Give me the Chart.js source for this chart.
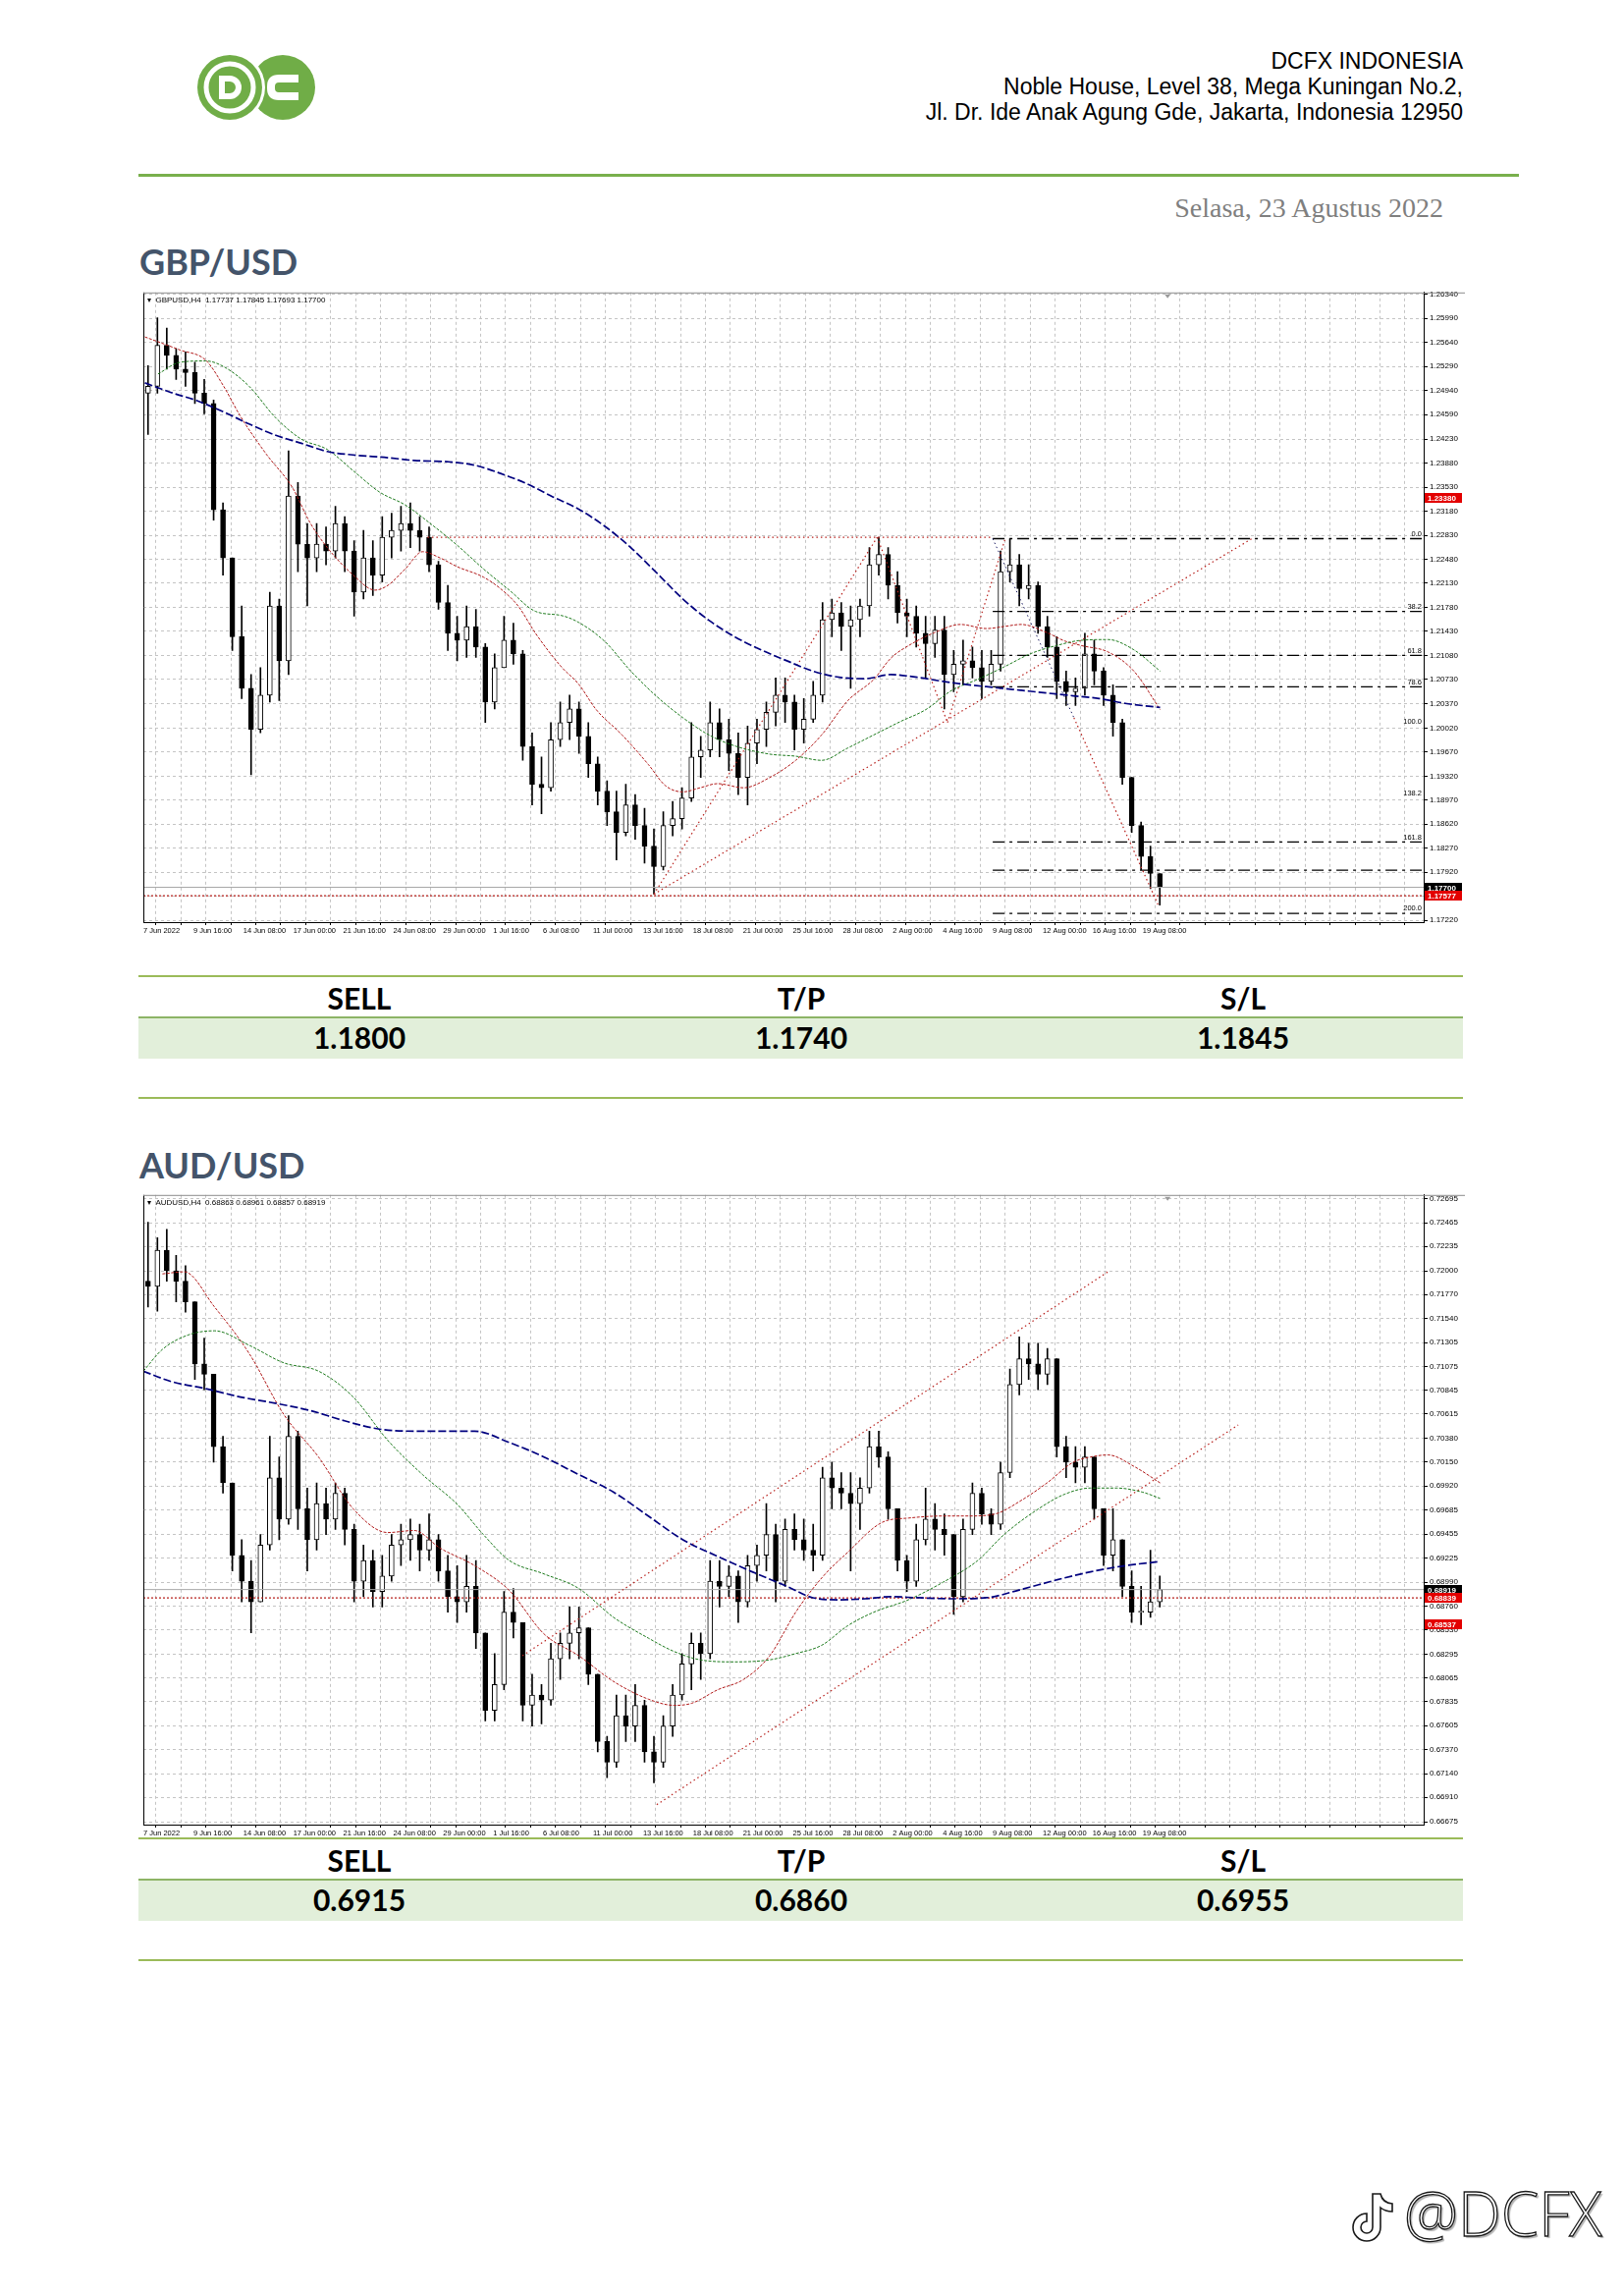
<!DOCTYPE html>
<html>
<head>
<meta charset="utf-8">
<script src="https://cdn.jsdelivr.net/npm/chart.js"></script>
<style>
  html, body { margin: 0; padding: 0; background: #fff; }
  #page { position: relative; width: 1653px; height: 2338px; overflow: hidden; }
  .abs { position: absolute; }
  .addr { right: 163px; top: 49px; font: 23px/26px "Liberation Sans", Arial, sans-serif; color: #000; text-align: right; }
  .rule { left: 141px; top: 177px; width: 1406px; height: 3px; background: #79b04c; }
  .date { right: 183px; top: 198px; font: 28px/28px "Liberation Serif", "Times New Roman", serif; color: #7f7f7f; }
  .pair { left: 142px; font: bold 36px/36px Lato, "Open Sans", sans-serif; color: #44546a; }
  canvas { position: absolute; }
  .tline { position: absolute; left: 141px; width: 1349px; height: 2px; background: #9bbb59; }
  .band { position: absolute; left: 141px; width: 1349px; background: #e2efda; }
  .cell { position: absolute; width: 450px; text-align: center; font: bold 30px/30px Lato, "Open Sans", sans-serif; color: #000; }
  .footer { left: 1430px; top: 2222px; font: 300 62px/62px "Open Sans", sans-serif; color: #fff;
            -webkit-text-stroke: 1.3px #1a1a1a; text-shadow: 2px 2px 1px rgba(0,0,0,0.3); }
</style>
</head>
<body>
<div id="page">

  <svg class="abs" style="left:200px; top:55px" width="122" height="68" viewBox="0 0 122 68">
    <circle cx="88" cy="34" r="33" fill="#70ad47"/>
    <path d="M104,25 H84 Q76,25 76,33 V35 Q76,43 84,43 H104" fill="none" stroke="#fff" stroke-width="8"/>
    <circle cx="34" cy="34" r="36" fill="#fff"/>
    <circle cx="34" cy="34" r="33" fill="#70ad47"/>
    <circle cx="34" cy="34" r="24" fill="none" stroke="#fff" stroke-width="5"/>
    <path d="M26,25 H34 A9,9 0 0 1 34,43 H26 Z" fill="none" stroke="#fff" stroke-width="6"/>
  </svg>

  <div class="abs addr">DCFX INDONESIA<br>Noble House, Level 38, Mega Kuningan No.2,<br>Jl. Dr. Ide Anak Agung Gde, Jakarta, Indonesia 12950</div>
  <div class="abs rule"></div>
  <div class="abs date">Selasa, 23 Agustus 2022</div>

  <div class="abs pair" style="top:248px">GBP/USD</div>
  <canvas id="gbpChart" width="1348" height="666" style="left:144px; top:291px; width:1348px; height:666px"></canvas>

  <div class="abs pair" style="top:1168px">AUD/USD</div>
  <canvas id="audChart" width="1348" height="666" style="left:144px; top:1210px; width:1348px; height:666px"></canvas>

  <div id="tables"></div>

  <svg class="abs" style="left:1374px; top:2230px" width="50" height="60" viewBox="0 0 50 60">
    <path d="M24,4 H32 Q34,13 44,14 V22 Q37,22 32,18 V38 A14,14 0 1 1 18,24 V32 A6,6 0 1 0 24,38 Z"
          fill="#fff" stroke="#1a1a1a" stroke-width="1.6"/>
  </svg>
  <div class="abs footer">@DCFX</div>
</div>

<script>
// ---- shared axis labels ----
const dateLabels = ['7 Jun 2022', '9 Jun 16:00', '14 Jun 08:00', '17 Jun 00:00', '21 Jun 16:00',
  '24 Jun 08:00', '29 Jun 00:00', '1 Jul 16:00', '6 Jul 08:00', '11 Jul 00:00', '13 Jul 16:00',
  '18 Jul 08:00', '21 Jul 00:00', '25 Jul 16:00', '28 Jul 08:00', '2 Aug 00:00', '4 Aug 16:00',
  '9 Aug 08:00', '12 Aug 00:00', '16 Aug 16:00', '19 Aug 08:00'];

// ---- GBP/USD (12h candles, open = previous close) ----
const gbpFirstOpen = 1.2490;
const gbpHigh = [1.2530, 1.2600, 1.2585, 1.2555, 1.2550, 1.2535, 1.2510, 1.2480, 1.2330, 1.2250,
  1.2180, 1.2080, 1.2090, 1.2200, 1.2190, 1.2406, 1.2360, 1.2300, 1.2300, 1.2295,
  1.2325, 1.2310, 1.2275, 1.2290, 1.2275, 1.2310, 1.2315, 1.2325, 1.2330, 1.2310,
  1.2295, 1.2245, 1.2210, 1.2165, 1.2180, 1.2175, 1.2125, 1.2110, 1.2165, 1.2155,
  1.2115, 1.1995, 1.1960, 1.2010, 1.2040, 1.2050, 1.2040, 1.2010, 1.1960, 1.1925,
  1.1910, 1.1920, 1.1905, 1.1885, 1.1855, 1.1880, 1.1895, 1.1915, 1.2010, 1.1990,
  1.2040, 1.2030, 1.2015, 1.1995, 1.2005, 1.2015, 1.2040, 1.2075, 1.2075, 1.2050,
  1.2045, 1.2070, 1.2185, 1.2190, 1.2185, 1.2180, 1.2190, 1.2265, 1.2280, 1.2265,
  1.2230, 1.2190, 1.2180, 1.2165, 1.2165, 1.2165, 1.2115, 1.2130, 1.2120, 1.2115,
  1.2115, 1.2260, 1.2278, 1.2255, 1.2240, 1.2215, 1.2165, 1.2135, 1.2085, 1.2075,
  1.2140, 1.2130, 1.2090, 1.2065, 1.2015, 1.1930, 1.1865, 1.1830, 1.1790];
const gbpLow = [1.2430, 1.2490, 1.2525, 1.2510, 1.2500, 1.2475, 1.2460, 1.2305, 1.2225, 1.2115,
  1.2045, 1.1934, 1.1995, 1.2040, 1.2042, 1.2080, 1.2230, 1.2180, 1.2230, 1.2240,
  1.2250, 1.2230, 1.2165, 1.2190, 1.2195, 1.2215, 1.2250, 1.2260, 1.2265, 1.2260,
  1.2230, 1.2175, 1.2115, 1.2100, 1.2105, 1.2105, 1.2010, 1.2030, 1.2090, 1.2095,
  1.1955, 1.1890, 1.1877, 1.1910, 1.1975, 1.1985, 1.1965, 1.1930, 1.1890, 1.1860,
  1.1810, 1.1845, 1.1840, 1.1805, 1.1760, 1.1795, 1.1845, 1.1855, 1.1895, 1.1930,
  1.1960, 1.1960, 1.1940, 1.1905, 1.1890, 1.1950, 1.1975, 1.2005, 1.2010, 1.1970,
  1.1980, 1.2010, 1.2040, 1.2135, 1.2115, 1.2060, 1.2135, 1.2165, 1.2225, 1.2190,
  1.2155, 1.2135, 1.2120, 1.2075, 1.2105, 1.2030, 1.2055, 1.2065, 1.2075, 1.2045,
  1.2065, 1.2085, 1.2215, 1.2180, 1.2190, 1.2140, 1.2105, 1.2045, 1.2035, 1.2035,
  1.2050, 1.2065, 1.2035, 1.1990, 1.1920, 1.1850, 1.1795, 1.1768, 1.1744];
const gbpClose = [1.2500, 1.2560, 1.2545, 1.2525, 1.2520, 1.2490, 1.2475, 1.2320, 1.2250, 1.2135,
  1.2060, 1.2000, 1.2050, 1.2180, 1.2100, 1.2340, 1.2270, 1.2250, 1.2270, 1.2260,
  1.2300, 1.2260, 1.2200, 1.2250, 1.2225, 1.2280, 1.2290, 1.2300, 1.2290, 1.2280,
  1.2240, 1.2185, 1.2140, 1.2130, 1.2150, 1.2120, 1.2040, 1.2090, 1.2130, 1.2110,
  1.1975, 1.1920, 1.1915, 1.1985, 1.2010, 1.2030, 1.1990, 1.1950, 1.1910, 1.1880,
  1.1850, 1.1890, 1.1860, 1.1830, 1.1800, 1.1860, 1.1870, 1.1900, 1.1960, 1.1970,
  1.2010, 1.1985, 1.1965, 1.1930, 1.1980, 1.2000, 1.2025, 1.2050, 1.2040, 1.2000,
  1.2015, 1.2050, 1.2160, 1.2170, 1.2150, 1.2160, 1.2180, 1.2240, 1.2255, 1.2210,
  1.2170, 1.2165, 1.2140, 1.2125, 1.2145, 1.2080, 1.2095, 1.2100, 1.2090, 1.2070,
  1.2095, 1.2230, 1.2240, 1.2205, 1.2210, 1.2150, 1.2120, 1.2070, 1.2055, 1.2060,
  1.2110, 1.2085, 1.2050, 1.2010, 1.1930, 1.1860, 1.1815, 1.1790, 1.1770];
// moving averages as [bar, price] readings
const gbpMaRed = [[0.5, 1.2572], [11.7, 1.2553], [20, 1.2538], [25.6, 1.2501], [31, 1.2457], [39.4, 1.2401],
  [47.8, 1.2352], [53.3, 1.2302], [58.9, 1.2265], [67.2, 1.2225], [74.2, 1.2203], [78.3, 1.2210],
  [83.9, 1.2234], [89.4, 1.2259], [95, 1.2250], [100.6, 1.2237], [108.9, 1.2222], [114.4, 1.2205],
  [120, 1.2180], [125.6, 1.2140], [133.9, 1.2091], [139.4, 1.2066], [145, 1.2029], [153.3, 1.1992],
  [161.7, 1.1949], [167.2, 1.1918], [172.8, 1.1909], [178.3, 1.1915], [183.9, 1.1921], [192.2, 1.1915],
  [200.6, 1.1930], [208.9, 1.1955], [217.2, 1.1992], [225.6, 1.2042], [233.9, 1.2073], [239.4, 1.2104],
  [245, 1.2122], [253.3, 1.2141], [261.7, 1.2153], [270, 1.2147], [275.6, 1.2150], [281.1, 1.2153],
  [289.4, 1.2141], [295, 1.2129], [300.6, 1.2122], [308.9, 1.2113], [317.2, 1.2085], [325.6, 1.2029]];
const gbpMaGreen = [[4.7, 1.2518], [11.7, 1.2535], [20, 1.2537], [25.6, 1.2529], [33.9, 1.2500],
  [42.2, 1.2455], [50.6, 1.2423], [58.9, 1.2408], [67.2, 1.2377], [75.6, 1.2346], [83.9, 1.2327],
  [92.2, 1.2299], [100.6, 1.2268], [108.9, 1.2234], [117.2, 1.2203], [125.6, 1.2172], [133.9, 1.2166],
  [139.4, 1.2156], [147.8, 1.2128], [156.1, 1.2085], [164.4, 1.2048], [172.8, 1.2017], [181.1, 1.1992],
  [189.4, 1.1976], [200.6, 1.1964], [208.9, 1.1961], [217.2, 1.1955], [225.6, 1.1973], [233.9, 1.1992],
  [242.2, 1.2011], [250.6, 1.2029], [258.9, 1.2057], [267.2, 1.2073], [275.6, 1.2091], [283.9, 1.2110],
  [292.2, 1.2122], [300.6, 1.2130], [308.9, 1.2131], [317.2, 1.2116], [325.6, 1.2085]];
const gbpMaBlue = [[0.5, 1.2505], [8.9, 1.2491], [17.2, 1.2479], [25.6, 1.2463], [33.9, 1.2445],
  [42.2, 1.2429], [50.6, 1.2417], [58.9, 1.2405], [67.2, 1.2400], [78.3, 1.2396], [86.7, 1.2392],
  [97.8, 1.2390], [106.1, 1.2385], [114.4, 1.2373], [122.8, 1.2358], [131.1, 1.2339], [139.4, 1.2321],
  [147.8, 1.2296], [156.1, 1.2265], [164.4, 1.2228], [172.8, 1.2190], [181.1, 1.2159], [189.4, 1.2135],
  [197.8, 1.2116], [206.1, 1.2100], [214.4, 1.2085], [222.8, 1.2076], [231.1, 1.2074], [239.4, 1.2080],
  [247.8, 1.2076], [256.1, 1.2070], [264.4, 1.2065], [272.8, 1.2061], [281.1, 1.2057], [289.4, 1.2053],
  [297.8, 1.2049], [306.1, 1.2045], [314.4, 1.2038], [325.6, 1.2032]];
const gbpTicks = [1.26340, 1.25990, 1.25640, 1.25290, 1.24940, 1.24590, 1.24230, 1.23880, 1.23530,
  1.23180, 1.22830, 1.22480, 1.22130, 1.21780, 1.21430, 1.21080, 1.20730, 1.20370, 1.20020, 1.19670,
  1.19320, 1.18970, 1.18620, 1.18270, 1.17920, 1.17570, 1.17220];
const gbpFibLevels = ['0.0', '38.2', '61.8', '78.6', '100.0', '138.2', '161.8', '200.0'];
const gbpFibPrices = [1.2278, 1.2172, 1.2108, 1.2062, 1.2004, 1.1900, 1.1836, 1.1732];
const gbpFibLines = [1.2278, 1.2172, 1.2108, 1.2062, 1.1836, 1.1795, 1.1732];
const gbpRedTrends = [
  [[163.5, 1.1760], [355, 1.2278]],
  [[163.5, 1.1760], [235, 1.2280]],
  [[235, 1.2280], [257.5, 1.2010]],
  [[257.5, 1.2010], [276, 1.2278]],
  [[298, 1.2017], [325, 1.1744]]];
const gbpBlackTrend = [[272, 1.2278], [298, 1.2017]];
const gbpResistance = [[91, 1.2280], [272, 1.2280]];
const gbpBid = 1.1770, gbpOrder = 1.17577, gbpAlert = 1.2338;

// ---- AUD/USD ----
const audFirstOpen = 0.7190;
const audHigh = [0.7247, 0.7232, 0.7240, 0.7215, 0.7205, 0.7170, 0.7135, 0.7100, 0.7040, 0.6995,
  0.6940, 0.6920, 0.6945, 0.7040, 0.7020, 0.7060, 0.7045, 0.6990, 0.6995, 0.6990,
  0.6995, 0.6990, 0.6955, 0.6935, 0.6930, 0.6925, 0.6945, 0.6955, 0.6960, 0.6955,
  0.6965, 0.6945, 0.6925, 0.6915, 0.6925, 0.6920, 0.6850, 0.6830, 0.6890, 0.6893,
  0.6860, 0.6810, 0.6800, 0.6840, 0.6850, 0.6875, 0.6875, 0.6855, 0.6810, 0.6750,
  0.6790, 0.6790, 0.6800, 0.6785, 0.6750, 0.6770, 0.6800, 0.6830, 0.6850, 0.6850,
  0.6920, 0.6920, 0.6915, 0.6910, 0.6925, 0.6935, 0.6975, 0.6955, 0.6960, 0.6965,
  0.6960, 0.6955, 0.7010, 0.7015, 0.7005, 0.7005, 0.7000, 0.7045, 0.7045, 0.7025,
  0.6970, 0.6925, 0.6955, 0.6990, 0.6975, 0.6965, 0.6945, 0.6960, 0.6995, 0.6990,
  0.6970, 0.7015, 0.7105, 0.7136, 0.7130, 0.7130, 0.7125, 0.7115, 0.7040, 0.7030,
  0.7030, 0.7020, 0.6970, 0.6970, 0.6940, 0.6910, 0.6895, 0.6930, 0.6905];
const audLow = [0.7165, 0.7161, 0.7190, 0.7170, 0.7160, 0.7095, 0.7085, 0.7015, 0.6985, 0.6910,
  0.6880, 0.6850, 0.6880, 0.6930, 0.6940, 0.6955, 0.6950, 0.6910, 0.6930, 0.6945,
  0.6950, 0.6935, 0.6880, 0.6885, 0.6875, 0.6875, 0.6900, 0.6915, 0.6920, 0.6910,
  0.6920, 0.6900, 0.6870, 0.6860, 0.6870, 0.6835, 0.6765, 0.6765, 0.6795, 0.6845,
  0.6765, 0.6760, 0.6762, 0.6780, 0.6805, 0.6825, 0.6825, 0.6800, 0.6735, 0.6710,
  0.6720, 0.6745, 0.6745, 0.6725, 0.6705, 0.6720, 0.6750, 0.6785, 0.6795, 0.6805,
  0.6825, 0.6875, 0.6885, 0.6860, 0.6875, 0.6900, 0.6910, 0.6880, 0.6895, 0.6930,
  0.6920, 0.6910, 0.6920, 0.6970, 0.6970, 0.6910, 0.6950, 0.6985, 0.7010, 0.6960,
  0.6910, 0.6890, 0.6895, 0.6935, 0.6930, 0.6925, 0.6868, 0.6880, 0.6945, 0.6955,
  0.6945, 0.6950, 0.7000, 0.7080, 0.7095, 0.7085, 0.7090, 0.7020, 0.7000, 0.6995,
  0.6995, 0.6960, 0.6915, 0.6910, 0.6885, 0.6860, 0.6858, 0.6865, 0.6875];
const audClose = [0.7185, 0.7220, 0.7200, 0.7190, 0.7170, 0.7110, 0.7100, 0.7030, 0.6995, 0.6925,
  0.6900, 0.6880, 0.6935, 0.7000, 0.6960, 0.7040, 0.6970, 0.6940, 0.6975, 0.6960,
  0.6985, 0.6950, 0.6900, 0.6920, 0.6890, 0.6905, 0.6935, 0.6940, 0.6945, 0.6930,
  0.6940, 0.6910, 0.6885, 0.6880, 0.6895, 0.6850, 0.6775, 0.6800, 0.6870, 0.6860,
  0.6780, 0.6790, 0.6785, 0.6825, 0.6840, 0.6850, 0.6855, 0.6810, 0.6745, 0.6725,
  0.6770, 0.6760, 0.6780, 0.6735, 0.6725, 0.6760, 0.6790, 0.6820, 0.6840, 0.6830,
  0.6900, 0.6895, 0.6905, 0.6880, 0.6915, 0.6925, 0.6945, 0.6900, 0.6950, 0.6940,
  0.6930, 0.6925, 0.7000, 0.6990, 0.6985, 0.6975, 0.6990, 0.7030, 0.7020, 0.6970,
  0.6920, 0.6900, 0.6940, 0.6960, 0.6950, 0.6945, 0.6885, 0.6950, 0.6985, 0.6965,
  0.6955, 0.7005, 0.7090, 0.7115, 0.7110, 0.7100, 0.7115, 0.7030, 0.7015, 0.7010,
  0.7020, 0.6970, 0.6925, 0.6940, 0.6895, 0.6870, 0.6870, 0.6880, 0.6892];
const audMaRed = [[6.1, 0.7197], [13.1, 0.7199], [22.8, 0.7165], [33.9, 0.7120], [45, 0.7061],
  [56.1, 0.7020], [67.2, 0.6970], [78.3, 0.6947], [86.7, 0.6949], [95, 0.6932], [106.1, 0.6915],
  [117.2, 0.6891], [128.3, 0.6849], [139.4, 0.6828], [150.6, 0.6803], [161.7, 0.6786], [170, 0.6780],
  [175.6, 0.6782], [183.9, 0.6795], [192.2, 0.6805], [200.6, 0.6828], [208.9, 0.6870], [217.2, 0.6903],
  [225.6, 0.6928], [236.7, 0.6957], [245, 0.6961], [256.1, 0.6963], [264.4, 0.6963], [272.8, 0.6965],
  [281.1, 0.6978], [289.4, 0.6995], [297.8, 0.7015], [303.3, 0.7020], [308.9, 0.7022], [317.2, 0.7011],
  [325.6, 0.6995]];
const audMaGreen = [[0, 0.7103], [6.1, 0.7124], [14.4, 0.7138], [22.8, 0.7142], [33.9, 0.7128],
  [45, 0.7111], [56.1, 0.7103], [67.2, 0.7078], [78.3, 0.7036], [89.4, 0.7003], [100.6, 0.6974],
  [108.9, 0.6945], [117.2, 0.6920], [128.3, 0.6907], [139.4, 0.6893], [150.6, 0.6865], [161.7, 0.6845],
  [170, 0.6832], [178.3, 0.6824], [189.4, 0.6822], [200.6, 0.6824], [208.9, 0.6830], [217.2, 0.6838],
  [225.6, 0.6857], [233.9, 0.6870], [245, 0.6882], [256.1, 0.6899], [267.2, 0.6920], [275.6, 0.6945],
  [286.7, 0.6970], [295, 0.6984], [303.3, 0.6990], [311.7, 0.6990], [320, 0.6986], [325.6, 0.6980]];
const audMaBlue = [[0, 0.7103], [8.9, 0.7093], [20, 0.7086], [31.1, 0.7078], [42.2, 0.7072],
  [53.3, 0.7065], [64.4, 0.7055], [75.6, 0.7047], [86.7, 0.7045], [106.1, 0.7045], [117.2, 0.7034],
  [128.3, 0.7020], [139.4, 0.7003], [150.6, 0.6986], [161.7, 0.6963], [172.8, 0.6940], [183.9, 0.6924],
  [195, 0.6909], [206.1, 0.6895], [214.4, 0.6884], [222.8, 0.6882], [231.1, 0.6883], [239.4, 0.6885],
  [247.8, 0.6884], [258.9, 0.6883], [270, 0.6884], [281.1, 0.6892], [292.2, 0.6901], [303.3, 0.6909],
  [314.4, 0.6915], [325.6, 0.6919]];
const audTicks = [0.72695, 0.72465, 0.72235, 0.72000, 0.71770, 0.71540, 0.71305, 0.71075, 0.70845,
  0.70615, 0.70380, 0.70150, 0.69920, 0.69685, 0.69455, 0.69225, 0.68990, 0.68760, 0.68530, 0.68295,
  0.68065, 0.67835, 0.67605, 0.67370, 0.67140, 0.66910, 0.66675];
const audRedTrends = [
  [[121.4, 0.6828], [308.9, 0.7199]],
  [[164.4, 0.6684], [350.6, 0.7051]]];
const audBid = 0.68919, audOrder = 0.68839, audAlert = 0.6858;

// ---- trade levels ----
const signalHeads = ['SELL', 'T/P', 'S/L'];
const gbpSignal = ['1.1800', '1.1740', '1.1845'];
const audSignal = ['0.6915', '0.6860', '0.6955'];

// ---- chart helpers ----
const BARS_PER_CANDLE = 3;
const X_MAX = 410;
const gridBars = [];
for (let b = 0; b <= X_MAX; b += 8) gridBars.push(b);

Chart.defaults.font.family = '"Liberation Sans", Arial, sans-serif';

function candleSets(firstOpen, highs, lows, closes) {
  const opens = [firstOpen].concat(closes.slice(0, -1));
  const xs = closes.map((c, i) => i * BARS_PER_CANDLE + BARS_PER_CANDLE / 2);
  return [
    { type: 'bar', order: 3, grouped: false, barThickness: 1, borderWidth: 0,
      backgroundColor: '#000',
      data: xs.map((x, i) => ({ x: x, y: [lows[i], highs[i]] })) },
    { type: 'bar', order: 2, grouped: false, barThickness: 5, borderWidth: 1,
      borderSkipped: false, minBarLength: 1, borderColor: '#000',
      backgroundColor: closes.map((c, i) => c >= opens[i] ? '#fff' : '#000'),
      data: xs.map((x, i) => ({ x: x, y: [opens[i], closes[i]] })) }
  ];
}

function line(points, color, width, dash, smooth) {
  return {
    type: 'line', order: 1,
    data: points.map(p => ({ x: p[0], y: p[1] })),
    borderColor: color, borderWidth: width, borderDash: dash || [],
    pointRadius: 0, fill: false,
    tension: smooth ? 0.4 : 0, cubicInterpolationMode: smooth ? 'monotone' : 'default'
  };
}

function flat(price, from, to, color, width, dash) {
  return line([[from, price], [to, price]], color, width, dash, false);
}

function makeOverlay(cfg) {
  return {
    id: 'overlay',
    afterDraw(chart) {
      const ctx = chart.ctx, a = chart.chartArea, x = chart.scales.x, y = chart.scales.y;
      ctx.save();
      ctx.lineWidth = 1;
      ctx.strokeStyle = '#000';
      ctx.beginPath();
      ctx.moveTo(a.left + 0.5, a.top);
      ctx.lineTo(a.left + 0.5, a.bottom + 0.5);
      ctx.lineTo(a.right + 0.5, a.bottom + 0.5);
      ctx.lineTo(a.right + 0.5, a.top);
      ctx.stroke();
      ctx.strokeStyle = '#8c8c8c';
      ctx.beginPath();
      ctx.moveTo(a.left, a.top + 0.5);
      ctx.lineTo(chart.width, a.top + 0.5);
      ctx.stroke();

      // chart shift marker
      const sx = x.getPixelForValue(328);
      ctx.fillStyle = '#9a9a9a';
      ctx.beginPath();
      ctx.moveTo(sx - 3, a.top + 2);
      ctx.lineTo(sx + 3, a.top + 2);
      ctx.lineTo(sx, a.top + 6);
      ctx.fill();

      // symbol line
      ctx.fillStyle = '#000';
      ctx.font = '8px "Liberation Sans", Arial, sans-serif';
      ctx.textAlign = 'left';
      ctx.textBaseline = 'middle';
      ctx.fillText('\u25BE  ' + cfg.info, a.left + 4, a.top + 8);

      // fibo level names
      ctx.font = '7.5px "Liberation Sans", Arial, sans-serif';
      ctx.textAlign = 'right';
      ctx.textBaseline = 'bottom';
      (cfg.fibLevels || []).forEach((lv, i) => {
        ctx.fillText(lv, a.right - 2, y.getPixelForValue(cfg.fibPrices[i]) - 1);
      });

      // price boxes on the scale
      ctx.font = 'bold 8px "Liberation Sans", Arial, sans-serif';
      ctx.textAlign = 'left';
      ctx.textBaseline = 'middle';
      cfg.boxes.forEach(b => {
        const py = Math.round(y.getPixelForValue(b[0]));
        ctx.fillStyle = b[2];
        ctx.fillRect(a.right + 1, py - 5, 38, 10);
        ctx.fillStyle = '#fff';
        ctx.fillText(b[1], a.right + 4, py + 0.5);
      });
      ctx.restore();
    }
  };
}

function makeChart(id, sets, yMin, yMax, yTicks, overlay) {
  return new Chart(document.getElementById(id), {
    type: 'bar',
    data: { datasets: sets },
    options: {
      responsive: false, animation: false, events: [],
      layout: { padding: { top: 2, left: 2, right: 0, bottom: 0 } },
      plugins: { legend: { display: false }, tooltip: { enabled: false } },
      scales: {
        x: {
          type: 'linear', min: 0, max: X_MAX, offset: false,
          afterBuildTicks: s => { s.ticks = gridBars.map(v => ({ value: v })); },
          afterFit: s => { s.height = 18; },
          ticks: {
            autoSkip: false, maxRotation: 0, minRotation: 0, align: 'start', padding: 1,
            color: '#000', font: { size: 7.5 },
            callback: v => (v % 16 === 0 ? (dateLabels[v / 16] || '') : '')
          },
          grid: { color: '#c4c4c4', tickColor: '#000', tickLength: 3 },
          border: { display: true, color: '#000', dash: [3, 3] }
        },
        y: {
          position: 'right', min: yMin, max: yMax,
          afterBuildTicks: s => { s.ticks = yTicks.map(v => ({ value: v })); },
          afterFit: s => { s.width = 42; },
          ticks: { color: '#000', font: { size: 8 }, padding: 2, callback: v => v.toFixed(5) },
          grid: { color: '#c4c4c4', tickColor: '#000', tickLength: 4 },
          border: { display: true, color: '#000', dash: [3, 3] }
        }
      }
    },
    plugins: [overlay]
  });
}

const MA_RED = '#b01818', MA_GREEN = '#1d7a1d', MA_BLUE = '#00007f', TREND_RED = '#b8201c';
const MA_DASH = [3, 1.5], BLUE_DASH = [8, 3], TREND_DASH = [1.5, 3];
const FIB_DASH = [12, 5, 3, 5];

// ---- GBP/USD chart ----
const gbpSets = candleSets(gbpFirstOpen, gbpHigh, gbpLow, gbpClose).concat(
  [line(gbpMaBlue, MA_BLUE, 1.7, BLUE_DASH, true),
   line(gbpMaGreen, MA_GREEN, 1, MA_DASH, true),
   line(gbpMaRed, MA_RED, 1, MA_DASH, true),
   line(gbpResistance, TREND_RED, 1.2, TREND_DASH, false),
   line(gbpBlackTrend, '#1a1a60', 1, TREND_DASH, false)],
  gbpRedTrends.map(t => line(t, TREND_RED, 1.2, TREND_DASH, false)),
  gbpFibLines.map(p => flat(p, 272, X_MAX, '#000', 1.3, FIB_DASH)),
  [flat(gbpBid, 0, X_MAX, '#a8a8a8', 1, []),
   flat(gbpOrder, 0, X_MAX, TREND_RED, 1.2, [2, 2])]
);
makeChart('gbpChart', gbpSets, 1.17192, 1.26368, gbpTicks, makeOverlay({
  info: 'GBPUSD,H4  1.17737 1.17845 1.17693 1.17700',
  fibLevels: gbpFibLevels, fibPrices: gbpFibPrices,
  boxes: [[gbpAlert, '1.23380', '#e30000'], [gbpBid, '1.17700', '#000'], [gbpOrder, '1.17577', '#e30000']]
}));

// ---- AUD/USD chart ----
const audSets = candleSets(audFirstOpen, audHigh, audLow, audClose).concat(
  [line(audMaBlue, MA_BLUE, 1.7, BLUE_DASH, true),
   line(audMaGreen, MA_GREEN, 1, MA_DASH, true),
   line(audMaRed, MA_RED, 1, MA_DASH, true)],
  audRedTrends.map(t => line(t, TREND_RED, 1.2, TREND_DASH, false)),
  [flat(audBid, 0, X_MAX, '#a8a8a8', 1, []),
   flat(audOrder, 0, X_MAX, TREND_RED, 1.2, [2, 2])]
);
makeChart('audChart', audSets, 0.66647, 0.72733, audTicks, makeOverlay({
  info: 'AUDUSD,H4  0.68863 0.68961 0.68857 0.68919',
  boxes: [[audBid, '0.68919', '#000'], [audOrder, '0.68839', '#e30000'], [audAlert, '0.68537', '#e30000']]
}));

// ---- signal tables ----
function buildTable(top, values) {
  const host = document.getElementById('tables');
  let html = '';
  html += `<div class="tline" style="top:${top}px"></div>`;
  html += `<div class="tline" style="top:${top + 42}px; background:#8db466"></div>`;
  html += `<div class="band" style="top:${top + 44}px; height:41px"></div>`;
  html += `<div class="tline" style="top:${top + 124}px"></div>`;
  signalHeads.forEach((h, i) => {
    html += `<div class="cell" style="left:${141 + i * 450}px; top:${top + 8}px">${h}</div>`;
    html += `<div class="cell" style="left:${141 + i * 450}px; top:${top + 48}px">${values[i]}</div>`;
  });
  host.insertAdjacentHTML('beforeend', html);
}
buildTable(993, gbpSignal);
buildTable(1871, audSignal);
</script>
</body>
</html>
